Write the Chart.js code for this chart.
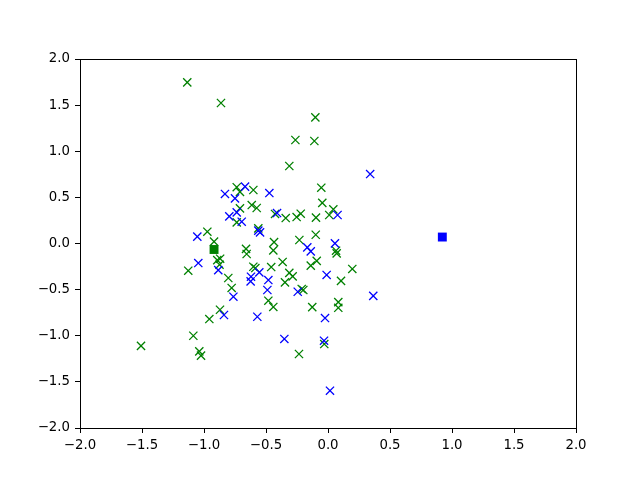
<!DOCTYPE html>
<html>
<head>
<meta charset="utf-8">
<script src="https://cdn.jsdelivr.net/npm/chart.js@4/dist/chart.umd.min.js"></script>
<style>
html,body{margin:0;padding:0;background:#fff;}
canvas{display:block;}
</style>
</head>
<body>
<canvas id="c" width="640" height="480"></canvas>
<script>
// Data
const greenX = [-1.135,-0.863,-0.102,-0.263,-0.11,-0.312,-0.054,-0.046,-0.736,-0.71,-0.602,-0.615,-0.575,-0.71,-0.736,-0.427,-0.341,-0.253,-0.22,-0.097,0.01,0.043,-0.973,-0.919,-0.562,-0.099,-0.435,-0.441,-0.661,-0.656,-0.231,0.065,0.07,-1.127,-0.893,-0.87,-0.875,-0.804,-0.777,-0.602,-0.586,-0.458,-0.366,-0.312,-0.285,-0.347,-0.212,-0.199,-0.139,-0.091,0.196,0.105,0.083,0.083,-0.127,-0.481,-0.441,-0.871,-0.957,-1.086,-1.038,-1.024,-0.03,-0.234,-1.508];
const greenY = [1.746,1.523,1.367,1.122,1.111,0.84,0.605,0.44,0.61,0.56,0.58,0.417,0.385,0.381,0.229,0.32,0.276,0.287,0.323,0.28,0.309,0.371,0.128,0.02,0.164,0.095,0.015,-0.075,-0.058,-0.114,0.038,-0.078,-0.107,-0.295,-0.18,-0.165,-0.23,-0.374,-0.482,-0.252,-0.266,-0.255,-0.2,-0.318,-0.357,-0.422,-0.493,-0.504,-0.24,-0.188,-0.276,-0.405,-0.635,-0.697,-0.69,-0.62,-0.688,-0.718,-0.819,-1.0,-1.17,-1.216,-1.09,-1.198,-1.11];
const blueX = [0.34,-0.831,-0.669,-0.75,-0.473,-0.796,-0.736,-0.696,-0.411,0.077,-1.054,-0.562,-0.548,-0.167,-0.139,0.056,-1.046,-0.885,-0.763,-0.554,-0.621,-0.624,-0.481,-0.489,-0.244,-0.011,-0.024,0.365,-0.57,-0.839,-0.352,-0.032,0.016];
const blueY = [0.753,0.537,0.616,0.489,0.547,0.294,0.337,0.236,0.33,0.309,0.074,0.139,0.12,-0.042,-0.086,0.001,-0.212,-0.288,-0.577,-0.313,-0.36,-0.41,-0.396,-0.504,-0.523,-0.341,-0.808,-0.568,-0.794,-0.775,-1.035,-1.054,-1.596];
const centerX = [-0.919, 0.922];
const centerY = [-0.065, 0.07];
const axisMin = -2.0;
const axisMax = 2.0;
const tickStep = 0.5;

const zip = (xs, ys) => xs.map((x, i) => ({x: x, y: ys[i]}));
const fmt = v => {
  const s = Number(v).toFixed(1);
  return s.replace('-', '\u2212');
};

const frame = {
  id: 'frame',
  afterDatasetsDraw(chart) {
    const a = chart.chartArea, ctx = chart.ctx;
    ctx.save();
    ctx.strokeStyle = '#000';
    ctx.lineWidth = 1;
    ctx.strokeRect(Math.round(a.left) + 0.5, Math.round(a.top) + 0.5, Math.round(a.right - a.left), Math.round(a.bottom - a.top));
    ctx.restore();
  }
};

const axisCommon = {
  type: 'linear',
  min: axisMin,
  max: axisMax,
  grid: {display: true, drawOnChartArea: false, drawTicks: true, tickLength: 5, tickColor: '#000', tickWidth: 1},
  border: {display: true, color: '#000', width: 1},
  ticks: {
    stepSize: tickStep,
    color: '#000',
    padding: 5,
    font: {family: 'DejaVu Sans', size: 13.3},
    callback: v => fmt(v)
  }
};

new Chart(document.getElementById('c'), {
  type: 'scatter',
  data: {
    datasets: [
      {label: 'blue centre', data: zip(centerX.slice(1), centerY.slice(1)), pointStyle: 'rect', pointRadius: 6.3, backgroundColor: '#0000ff', borderColor: '#0000ff', borderWidth: 0},
      {label: 'green centre', data: zip(centerX.slice(0, 1), centerY.slice(0, 1)), pointStyle: 'rect', pointRadius: 6.3, backgroundColor: '#008000', borderColor: '#008000', borderWidth: 0},
      {label: 'blue', data: zip(blueX, blueY), pointStyle: 'crossRot', pointRadius: 5.8, borderColor: '#0000ff', backgroundColor: '#0000ff', borderWidth: 1.3},
      {label: 'green', data: zip(greenX, greenY), pointStyle: 'crossRot', pointRadius: 5.8, borderColor: '#008000', backgroundColor: '#008000', borderWidth: 1.3}
    ]
  },
  options: {
    responsive: false,
    animation: false,
    events: [],
    layout: {autoPadding: false, padding: {left: 0, top: 59, right: 64, bottom: 0}},
    plugins: {legend: {display: false}, tooltip: {enabled: false}},
    scales: {
      x: Object.assign({}, axisCommon, {
        position: 'bottom',
        afterFit: s => { s.height = 52; }
      }),
      y: Object.assign({}, axisCommon, {
        position: 'left',
        afterFit: s => { s.width = 80; }
      })
    }
  },
  plugins: [frame]
});
</script>
</body>
</html>
